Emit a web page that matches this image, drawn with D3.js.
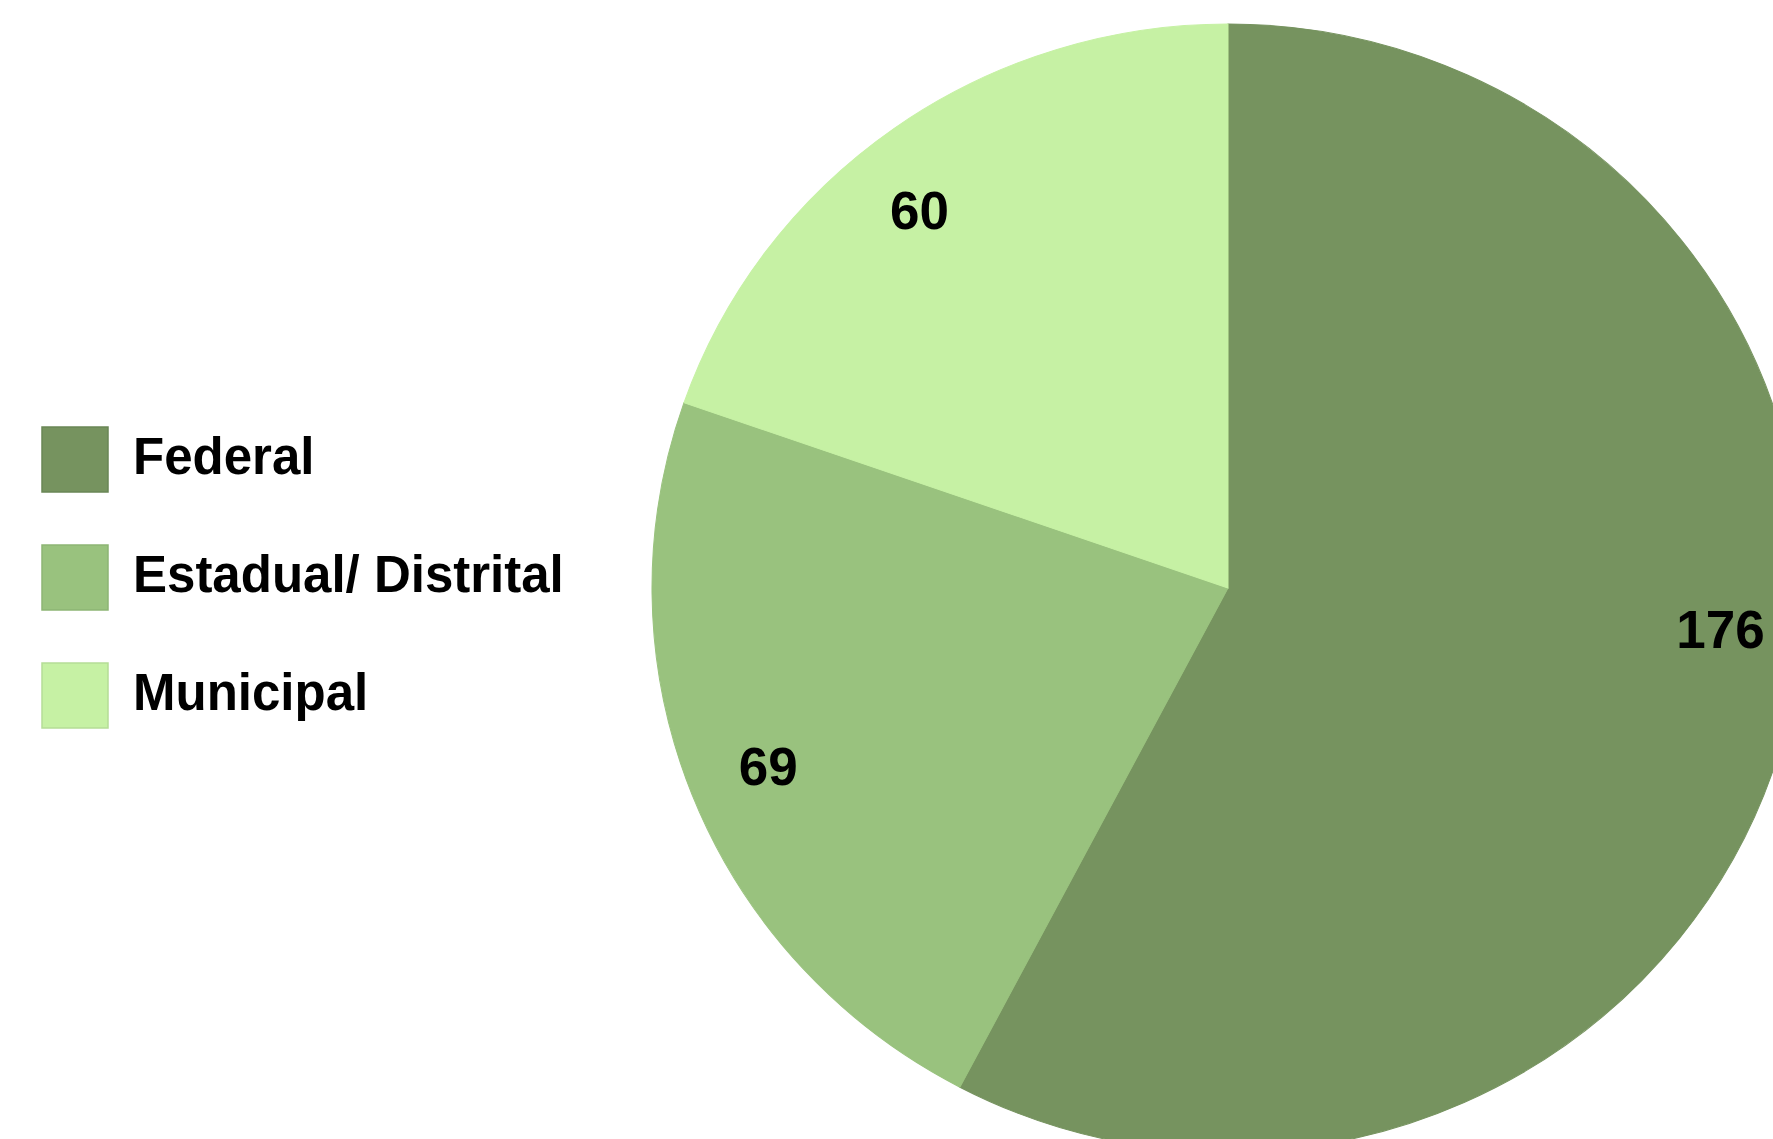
<!DOCTYPE html>
<html>
  <head>
    <script src="https://d3js.org/d3.v7.min.js"></script>
    <style>
      body { margin: 0; background: #fff; }
      text { font-family: "Liberation Sans", Arial, sans-serif; font-weight: bold; fill: #000; }
    </style>
  </head>
  <body>
    <svg id="chart" width="1773" height="1139"></svg>
    <script>
      // data
      var categories = ["Federal", "Estadual/ Distrital", "Municipal"];
      var values = [176, 69, 60];
      var colors = ["#76935f", "#99c27e", "#c6f1a4"];
      var borders = ["#6a8656", "#8db574", "#b5dd96"];

      var width = 1773, height = 1139;
      var cx = 1228, cy = 588;
      var r = 564;
      var sx = 576 / 564;   // the original is a little wider than tall
      var labelR = 484;
      // small angular nudges (degrees) to match where the labels sit
      var labelNudge = [-9, 0, -3.2];

      var svg = d3.select("#chart");

      var rows = categories.map(function(c, i) { return {name: c, value: values[i], i: i}; });

      var pie = d3.pie().sort(null).value(function(d) { return d.value; });
      var arcs = pie(rows);
      var arc = d3.arc().innerRadius(0).outerRadius(r);

      var g = svg.append("g")
        .attr("transform", "translate(" + cx + "," + cy + ") scale(" + sx + ",1)");

      g.selectAll("path")
        .data(arcs)
        .enter().append("path")
        .attr("d", arc)
        .attr("fill", function(d) { return colors[d.data.i]; })
        .attr("stroke", function(d) { return colors[d.data.i]; })
        .attr("stroke-width", 1);

      svg.append("g").selectAll("text")
        .data(arcs)
        .enter().append("text")
        .attr("x", function(d) {
          var a = (d.startAngle + d.endAngle) / 2 + labelNudge[d.data.i] * Math.PI / 180;
          return cx + sx * labelR * Math.sin(a);
        })
        .attr("y", function(d) {
          var a = (d.startAngle + d.endAngle) / 2 + labelNudge[d.data.i] * Math.PI / 180;
          return cy - labelR * Math.cos(a);
        })
        .attr("text-anchor", "middle")
        .attr("dy", "0.36em")
        .style("font-size", "53px")
        .text(function(d) { return d.data.value; });

      // legend
      var y = d3.scaleBand().domain(categories).range([427, 781]).paddingInner(0);
      var legend = svg.append("g");
      var item = legend.selectAll("g")
        .data(rows)
        .enter().append("g")
        .attr("transform", function(d) { return "translate(42," + y(d.name) + ")"; });

      item.append("rect")
        .attr("width", 66)
        .attr("height", 65)
        .attr("fill", function(d) { return colors[d.i]; })
        .attr("stroke", function(d) { return borders[d.i]; })
        .attr("stroke-width", 1.5);

      item.append("text")
        .attr("x", 91)
        .attr("y", 29)
        .attr("dy", "0.36em")
        .style("font-size", "51px")
        .text(function(d) { return d.name; });
    </script>
  </body>
</html>
